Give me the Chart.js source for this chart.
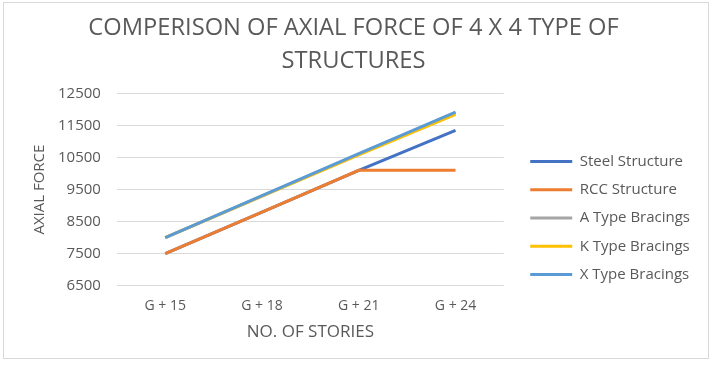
<!DOCTYPE html>
<html>
<head>
<meta charset="utf-8">
<script src="https://cdn.jsdelivr.net/npm/chart.js@4/dist/chart.umd.min.js"></script>
<style>
  body { margin: 0; background: #fff; }
  #frame { position: absolute; left: 3px; top: 2px; width: 704px; height: 355px; border: 1px solid #d9d9d9; }
  #wrap { position: absolute; left: 0; top: 0; width: 713px; height: 366px; }
</style>
</head>
<body>
<div id="frame"></div>
<div id="wrap"><canvas id="chart"></canvas></div>
<script>
let labels = ["G + 15", "G + 18", "G + 21", "G + 24"];

let steel = [7500, 8800, 10100, 11350];
let rcc = [7500, 8800, 10100, 10100];
let aType = [8000, 9300, 10600, 11900];
let kType = [8000, 9300, 10580, 11850];
let xType = [8000, 9310, 10620, 11920];

let grey = '#595959';
let font = "'Open Sans', sans-serif";

// later series are painted on top, like in Excel
function line(label, data, color, order) {
    return {
        label: label,
        data: data,
        borderColor: color,
        backgroundColor: color,
        borderWidth: 3,
        pointRadius: 0,
        tension: 0,
        fill: false,
        order: order
    };
}

let ctx = document.getElementById('chart').getContext('2d');

let chart = new Chart(ctx, {
    type: 'line',
    data: {
        labels: labels,
        datasets: [
            line("Steel Structure", steel, '#4472C4', 5),
            line("RCC Structure", rcc, '#ED7D31', 4),
            line("A Type Bracings", aType, '#A5A5A5', 3),
            line("K Type Bracings", kType, '#FFC000', 2),
            line("X Type Bracings", xType, '#5B9BD5', 1)
        ]
    },
    options: {
        responsive: true,
        maintainAspectRatio: false,
        animation: false,
        layout: {
            padding: { left: 7, right: 13, top: 8, bottom: 20 }
        },
        plugins: {
            title: {
                display: true,
                text: ["COMPERISON OF AXIAL FORCE OF 4 X 4 TYPE OF", "STRUCTURES"],
                color: grey,
                font: { family: font, size: 23.7, weight: 'normal', lineHeight: 1.38 },
                padding: { top: 4, bottom: 16 }
            },
            legend: {
                display: true,
                position: 'right',
                maxWidth: 220,
                title: {
                    display: true,
                    text: '',
                    font: { size: 10 },
                    padding: { top: 70, bottom: 0 }
                },
                labels: {
                    usePointStyle: true,
                    pointStyle: 'line',
                    pointStyleWidth: 42,
                    color: grey,
                    font: { family: font, size: 15 },
                    padding: 13.3,
                    sort: (a, b) => a.datasetIndex - b.datasetIndex
                }
            },
            tooltip: { enabled: false }
        },
        scales: {
            x: {
                offset: true,
                grid: { display: false },
                border: { display: false },
                ticks: { color: grey, font: { family: font, size: 14 }, padding: 4 },
                title: {
                    display: true,
                    text: "NO. OF STORIES",
                    color: grey,
                    font: { family: font, size: 17 },
                    padding: { top: 3 }
                }
            },
            y: {
                min: 6500,
                max: 12500,
                ticks: {
                    stepSize: 1000,
                    color: grey,
                    font: { family: font, size: 15 },
                    padding: 16,
                    callback: v => String(v)
                },
                grid: { color: '#d9d9d9', drawTicks: false },
                border: { display: false },
                title: {
                    display: true,
                    text: "AXIAL FORCE",
                    color: grey,
                    font: { family: font, size: 15 },
                    padding: { top: 24, bottom: -7 }
                }
            },
            // empty strip that keeps a gap between plot and legend
            gap: {
                type: 'linear',
                position: 'right',
                display: true,
                grid: { display: false },
                border: { display: false },
                ticks: { display: false },
                afterFit: s => { s.width = 13; }
            }
        }
    }
});
</script>
</body>
</html>
